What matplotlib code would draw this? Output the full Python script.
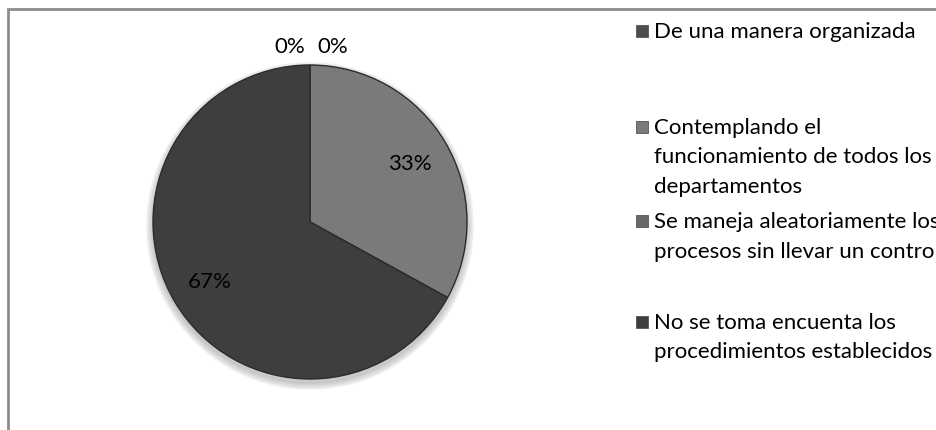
import matplotlib.pyplot as plt
import matplotlib.patches as mpatches
import numpy as np

# Respuestas de la encuesta (porcentaje)
categorias = ['De una manera organizada',
              'Contemplando el\nfuncionamiento de todos los\ndepartamentos',
              'Se maneja aleatoriamente los\nprocesos sin llevar un control',
              'No se toma encuenta los\nprocedimientos establecidos']
valores = [0, 33, 0, 67]
etiquetas = ['0%', '33%', '0%', '67%']
colores = ['#4e4e4e', '#7a7a7a', '#686868', '#3e3e3e']

plt.rcParams['font.family'] = ['Lato', 'DejaVu Sans']

W, H = 937, 431
fig = plt.figure(figsize=(W/100, H/100), dpi=100)

# marco del area del grafico (solo se ve arriba e izquierda)
frame = mpatches.Rectangle((8/W, -0.1), 1.2, 1 - 10/H + 0.1, transform=fig.transFigure,
                           fill=False, edgecolor='#8c8c8c', linewidth=2)
fig.patches.append(frame)

cx, cy, r = 310, 223, 157
ax = fig.add_axes([(cx - r)/W, (H - cy - r)/H, 2*r/W, 2*r/H])
ax.axis('off')

# sombra suave debajo del pastel
for k in range(6):
    sh = mpatches.Circle((0.0, -0.025), 1.0 + 0.008*k, color='black', alpha=0.035,
                         zorder=0, clip_on=False)
    ax.add_patch(sh)

wedges, txts = ax.pie(valores, colors=colores, startangle=90, counterclock=False,
                      radius=1.0, wedgeprops=dict(edgecolor='#2c2c2c', linewidth=1.0))
for w in wedges:
    w.set_zorder(2)
    w.set_clip_on(False)
ax.set_xlim(-1, 1); ax.set_ylim(-1, 1)
ax.set_aspect('equal')

# etiquetas de porcentaje
ang0 = 90.0
tot = float(sum(valores))
pos_cero = [(-0.03, 1.12, 'right'), (0.05, 1.12, 'left')]
nc = 0
for v, lab in zip(valores, etiquetas):
    a1 = ang0 - 360*v/tot
    if v == 0:
        x, y, ha = pos_cero[nc]; nc += 1
        ax.text(x, y, lab, ha=ha, va='center', fontsize=16, color='black', clip_on=False)
    else:
        am = np.deg2rad((ang0 + a1)/2)
        d = 0.74
        ax.text(d*np.cos(am), d*np.sin(am), lab, ha='center', va='center',
                fontsize=16, color='black', zorder=5)
    ang0 = a1

# leyenda
tops = [32, 128, 222, 323]
for cat, col, ty in zip(categorias, colores, tops):
    m = mpatches.Rectangle((636/W, (H - ty - 6)/H), 12/W, 12/H, transform=fig.transFigure,
                           facecolor=col, edgecolor='#555555', linewidth=0.6)
    fig.patches.append(m)
    lines = cat.split('\n')
    for i, ln in enumerate(lines):
        fig.text(654/W, (H - ty - 29.5*i)/H, ln, ha='left', va='center',
                 fontsize=16, color='black')

fig.savefig('out.png', dpi=100)
